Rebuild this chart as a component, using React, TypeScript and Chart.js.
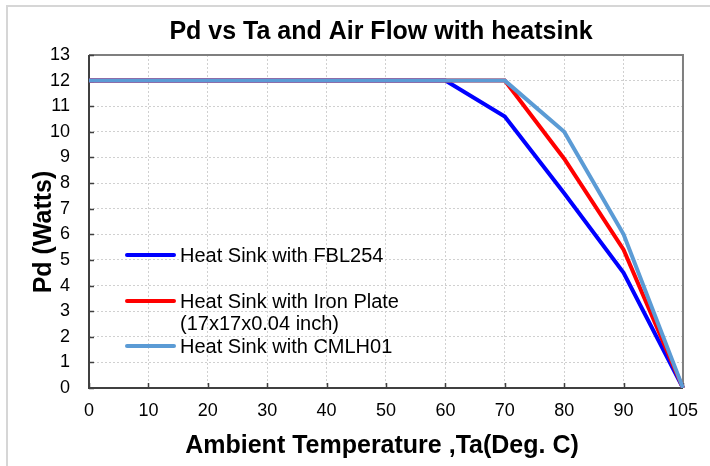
import React, { useEffect, useRef } from "react";
import { Chart, registerables } from "chart.js";

Chart.register(...registerables);

// ---- data ----
const categories = ["0", "10", "20", "30", "40", "50", "60", "70", "80", "90", "105"];
const fbl254 = [12, 12, 12, 12, 12, 12, 12, 10.6, 7.6, 4.5, 0];
const ironPlate = [12, 12, 12, 12, 12, 12, 12, 12, 8.95, 5.4, 0];
const cmlh01 = [12, 12, 12, 12, 12, 12, 12, 12, 10, 6, 0];
const seriesLabels = [
  ["Heat Sink with FBL254"],
  ["Heat Sink with Iron Plate", "(17x17x0.04 inch)"],
  ["Heat Sink with CMLH01"],
];
const seriesColors = ["#0000FF", "#FF0000", "#5B9BD5"];
const yMin = 0;
const yMax = 13;
const yStep = 1;
const titleText = "Pd vs Ta and Air Flow with heatsink";
const xTitle = "Ambient Temperature ,Ta(Deg. C)";
const yTitle = "Pd (Watts)";

const FONT = "'Liberation Sans', Arial, Helvetica, sans-serif";

const framePlugin = {
  id: "frame",
  beforeDraw(chart: any) {
    const ctx = chart.ctx;
    ctx.save();
    ctx.fillStyle = "#ffffff";
    ctx.fillRect(0, 0, chart.width, chart.height);
    ctx.strokeStyle = "#d6d6d6";
    ctx.lineWidth = 2;
    ctx.beginPath();
    ctx.moveTo(7, chart.height);
    ctx.lineTo(7, 6);
    ctx.lineTo(chart.width, 6);
    ctx.stroke();
    ctx.restore();
  },
  beforeDatasetsDraw(chart: any) {
    const ctx = chart.ctx;
    const { left, right, top, bottom } = chart.chartArea;
    ctx.save();
    ctx.strokeStyle = "#7f7f7f";
    ctx.lineWidth = 2;
    ctx.beginPath();
    ctx.moveTo(left, top);
    ctx.lineTo(right, top);
    ctx.lineTo(right, bottom);
    ctx.stroke();
    ctx.strokeStyle = "#404040";
    ctx.beginPath();
    ctx.moveTo(left, top);
    ctx.lineTo(left, bottom);
    ctx.lineTo(right, bottom);
    ctx.stroke();
    ctx.lineWidth = 1.5;
    const xs = chart.scales.x;
    const ys = chart.scales.y;
    ctx.beginPath();
    for (let i = 0; i < categories.length; i++) {
      const x = Math.round(xs.getPixelForValue(i)) + 0.5;
      ctx.moveTo(x, bottom);
      ctx.lineTo(x, bottom - 5);
    }
    for (let v = yMin; v <= yMax; v += yStep) {
      const y = Math.round(ys.getPixelForValue(v)) + 0.5;
      ctx.moveTo(left, y);
      ctx.lineTo(left + 5, y);
    }
    ctx.stroke();
    ctx.restore();
  },
  afterDraw(chart: any) {
    const ctx = chart.ctx;
    ctx.save();
    // titles
    ctx.fillStyle = "#000000";
    ctx.font = `bold 25px ${FONT}`;
    ctx.textAlign = "center";
    ctx.textBaseline = "alphabetic";
    ctx.fillText(titleText, 381, 39);
    ctx.fillText(xTitle, 382, 453);
    ctx.save();
    ctx.translate(51, 232);
    ctx.rotate(-Math.PI / 2);
    ctx.fillText(yTitle, 0, 0);
    ctx.restore();
    // legend
    const rowY = [[255], [301, 323], [346]];
    ctx.font = `20px ${FONT}`;
    ctx.textBaseline = "middle";
    ctx.textAlign = "left";
    for (let i = 0; i < seriesLabels.length; i++) {
      ctx.strokeStyle = seriesColors[i];
      ctx.lineWidth = 4;
      ctx.lineCap = "round";
      ctx.beginPath();
      ctx.moveTo(127, rowY[i][0]);
      ctx.lineTo(174, rowY[i][0]);
      ctx.stroke();
      ctx.fillStyle = "#000000";
      seriesLabels[i].forEach((t, j) => ctx.fillText(t, 180, rowY[i][j] + 1));
    }
    ctx.restore();
  },
};

export default function App() {
  const ref = useRef<HTMLCanvasElement | null>(null);
  useEffect(() => {
    if (!ref.current) return;
    const data = [fbl254, ironPlate, cmlh01];
    const chart = new Chart(ref.current, {
      type: "line",
      data: {
        labels: categories,
        datasets: data.map((d, i) => ({
          label: seriesLabels[i].join(" "),
          data: d,
          borderColor: seriesColors[i],
          backgroundColor: seriesColors[i],
          borderWidth: 4,
          pointRadius: 0,
          tension: 0,
          fill: false,
          order: 3 - i,
        })),
      },
      options: {
        responsive: false,
        animation: false,
        devicePixelRatio: 1,
        layout: { padding: { left: 8, top: 55, right: 24, bottom: 0 } },
        plugins: {
          legend: { display: false },
          tooltip: { enabled: false },
          title: { display: false },
        },
        scales: {
          x: {
            type: "category",
            offset: false,
            grid: { display: true, color: "#d0d0d0", lineWidth: 1, drawTicks: false },
            border: { display: false, dash: [2, 2] },
            ticks: {
              color: "#000000",
              font: { family: FONT, size: 18 },
              padding: 12,
              maxRotation: 0,
              autoSkip: false,
            },
            title: { display: false },
            afterFit(scale: any) {
              scale.height = 78;
            },
          },
          y: {
            min: yMin,
            max: yMax,
            grid: { display: true, color: "#d0d0d0", lineWidth: 1, drawTicks: false },
            border: { display: false, dash: [2, 2] },
            ticks: {
              stepSize: yStep,
              color: "#000000",
              font: { family: FONT, size: 18 },
              padding: 19,
            },
            title: { display: false },
            afterFit(scale: any) {
              scale.width = 81;
            },
          },
        },
      },
      plugins: [framePlugin],
    } as any);
    return () => chart.destroy();
  }, []);
  return (
    <div style={{ position: "absolute", left: 0, top: 0, width: 710, height: 466, background: "#fff" }}>
      <canvas ref={ref} width={710} height={466} />
    </div>
  );
}
